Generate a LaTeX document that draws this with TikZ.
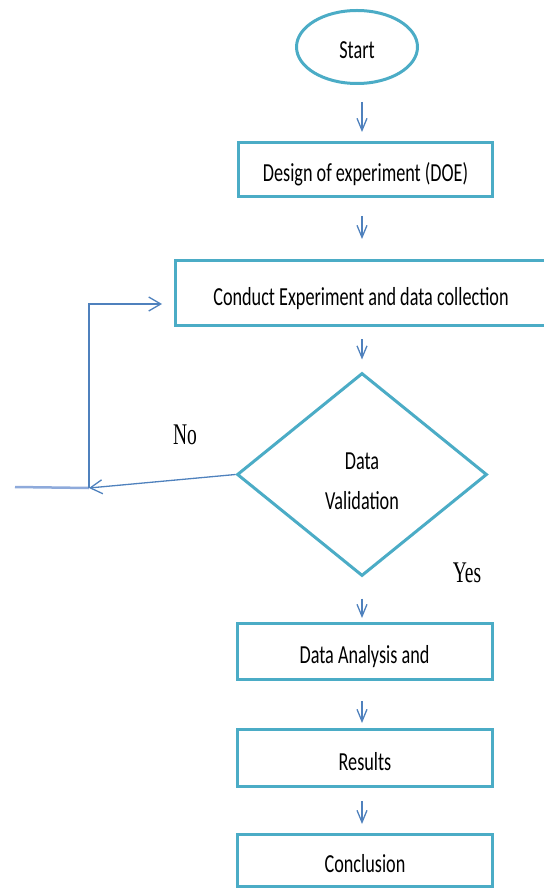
\documentclass[tikz,border=0pt]{standalone}
\usepackage{fontspec}
\setmainfont{Carlito}[FakeStretch=0.7]
\newfontfamily\labelfont{Liberation Serif}[FakeStretch=0.65]
\usetikzlibrary{shapes.geometric}
\usetikzlibrary{arrows.meta}
\usetikzlibrary{positioning}
\definecolor{boxteal}{HTML}{4BACC6}
\definecolor{arrowblue}{HTML}{4F81BD}
\definecolor{tailblue}{HTML}{8EAADB}
\tikzset{
  stepbox/.style={draw=boxteal, line width=3pt, fill=white, rectangle,
    font=\fontsize{26}{30}\selectfont, text height=26pt, text depth=2pt},
  flow/.style={draw=arrowblue, line width=1.3pt,
    -{Straight Barb[length=12pt,width=10pt]}},
  fback/.style={draw=arrowblue, line width=1.3pt,
    -{Straight Barb[length=12pt,width=14pt]}},
  answer/.style={font=\labelfont\fontsize{30}{34}\selectfont}
}

\begin{document}
\begin{tikzpicture}[x=1pt,y=-1pt]
	\useasboundingbox (0,0) rectangle (543,890);
	\node[stepbox, ellipse, minimum width=121pt, minimum height=73pt] (start) at (357,47){Start};%start
	\node[stepbox, minimum width=254pt, minimum height=54pt] (doe) at (365.5,169.5){Design of experiment (DOE)};
	\node[stepbox, minimum width=371pt, minimum height=65pt] (conduct) at (361,293){Conduct Experiment and data collection};
	\node[stepbox, diamond, align=center, minimum width=250pt, minimum height=203pt, font=\fontsize{26}{40}\selectfont,
	  text height=69pt, text depth=0pt] (val) at (362,474.5){Data\\Validation};
	\node[stepbox, minimum width=255pt, minimum height=56pt] (da) at (364.5,651.5){Data Analysis and};
	\node[stepbox, minimum width=255pt, minimum height=57pt] (res) at (365,758){Results};
	\node[stepbox, minimum width=255pt, minimum height=52pt] (concl) at (365,860.5){Conclusion};
	\node[answer] (nolab) at (185,435){No};
	\node[answer] (yeslab) at (467,573){Yes};
	\coordinate (axis) at (362,0);
	\coordinate (nobend) at (89,488);
	\coordinate (noend) at (15,487);
	% downward flow
	\draw[flow, shorten <=17pt, shorten >=9pt] (axis |- start.south) -- (axis |- doe.north);
	\draw[flow, shorten <=18pt, shorten >=20pt] (axis |- doe.south) -- (axis |- conduct.north);
	\draw[flow, shorten <=12pt, shorten >=12pt] (axis |- conduct.south) -- (val.north);
	\draw[flow, shorten <=21pt, shorten >=4pt] (val.south) -- (axis |- da.north);
	\draw[flow, shorten <=20pt, shorten >=5pt] (axis |- da.south) -- (axis |- res.north);
	\draw[flow, shorten <=13pt, shorten >=9pt] (axis |- res.south) -- (axis |- concl.north);
	% the No branch
	\draw[fback] (val.west) -- (nobend);
	\draw[tailblue, line width=2.5pt] (nobend) -- (noend);
	\draw[fback, shorten >=12pt] (nobend) |- ([yshift=-11pt]conduct.west);
\end{tikzpicture}
\end{document}
